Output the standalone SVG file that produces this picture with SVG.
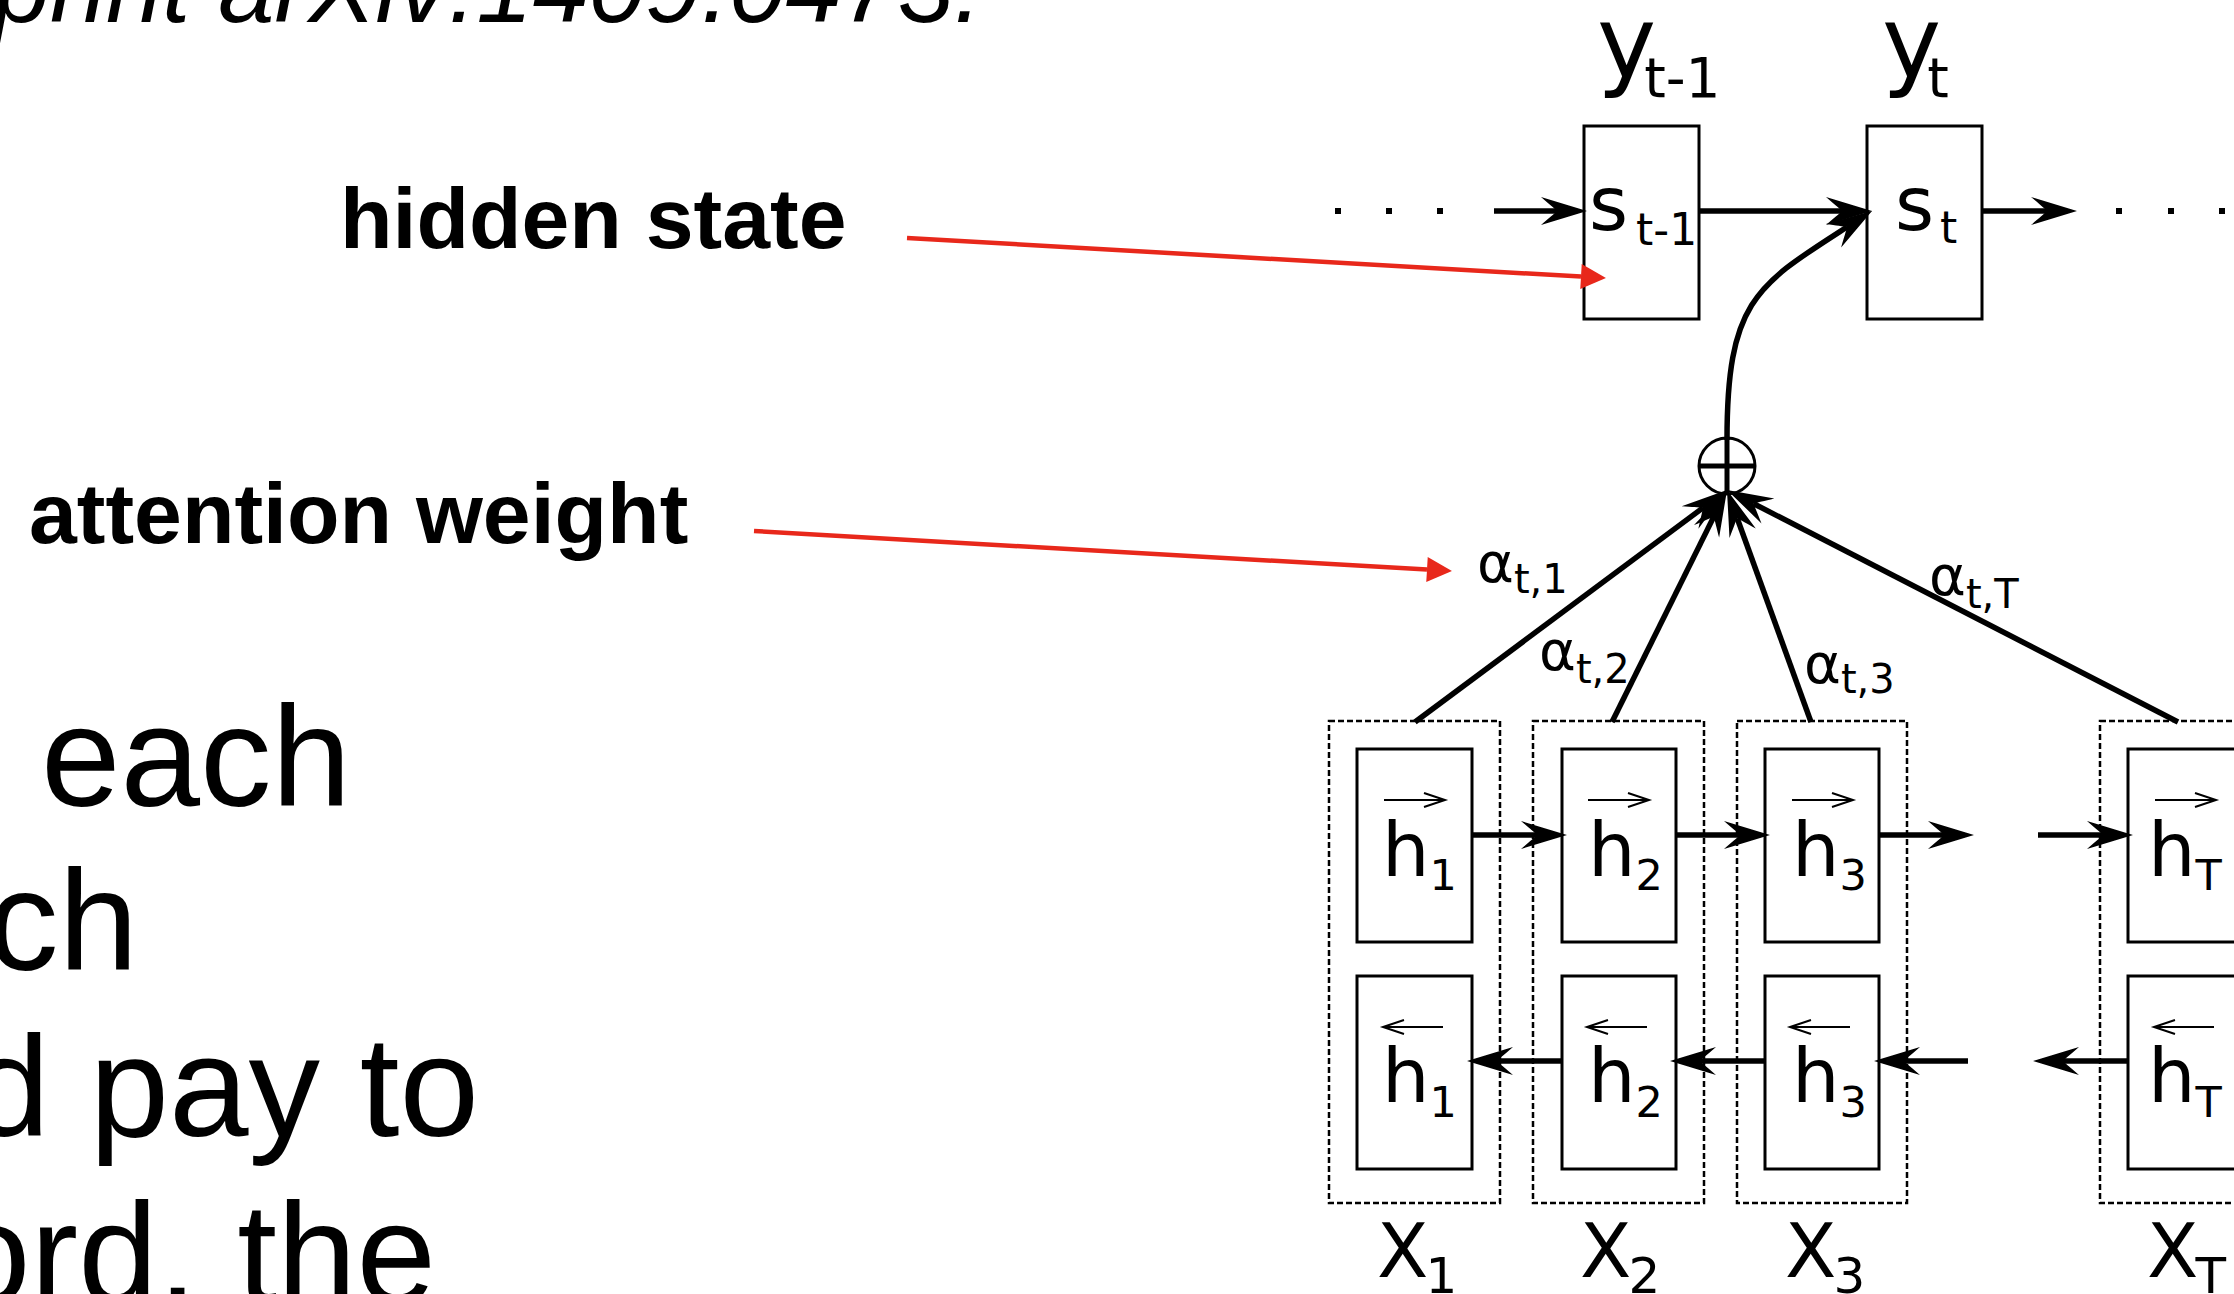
<svg xmlns="http://www.w3.org/2000/svg" width="2234" height="1294" viewBox="0 0 2234 1294">
<defs>
<style>
.dj{font-family:"DejaVu Sans",sans-serif;fill:#000}
.box{fill:#fff;stroke:#000;stroke-width:3}
.dash{fill:none;stroke:#000;stroke-width:2.5;stroke-dasharray:6 3}
.ln{fill:none;stroke:#000;stroke-width:5.5}
.red{fill:none;stroke:#e8281b;stroke-width:4.5}
.thin{fill:none;stroke:#000;stroke-width:2}
.slide{font-family:"Liberation Sans",Arial,sans-serif;fill:#000}
.lbl{font-family:"Liberation Sans",Arial,sans-serif;font-weight:bold;font-size:86px;fill:#000}
</style>
<marker id="ah" markerUnits="userSpaceOnUse" orient="auto" overflow="visible" markerWidth="10" markerHeight="10" refX="0" refY="0">
<path d="M30 0 L-16 -14 C-8 -7 -3 -3 0 0 C-3 3 -8 7 -16 14 Z" fill="#000"/>
</marker>
<marker id="rh" markerUnits="userSpaceOnUse" orient="auto" overflow="visible" markerWidth="10" markerHeight="10" refX="0" refY="0">
<path d="M25 0 L0 -12.5 L0 12.5 Z" fill="#e8281b"/>
</marker>
</defs>
<rect width="2234" height="1294" fill="#fff"/>

<g id="slide-text">
<text class="slide" font-style="italic" font-size="101" text-anchor="end" x="982" y="22">print arXiv:1409.0473.</text>
<text class="slide" font-size="143" text-anchor="end" x="351" y="806">each</text>
<text class="slide" font-size="143" text-anchor="end" x="138" y="970">ch</text>
<text class="slide" font-size="143" text-anchor="end" x="479" y="1136">d pay to</text>
<text class="slide" font-size="143" text-anchor="end" x="436" y="1303">ord. the</text>
<text class="lbl" x="340" y="248">hidden state</text>
<text class="lbl" x="29" y="543">attention weight</text>
</g>

<g id="y-labels">
<text class="dj" x="1597" y="77" font-size="100">y<tspan dx="-12" dy="20" font-size="55">t-1</tspan></text>
<text class="dj" x="1882" y="77" font-size="100">y<tspan dx="-14" dy="20" font-size="55">t</tspan></text>
</g>

<g id="inputs">
<g id="x1"><rect class="dash" x="1329" y="721" width="171" height="482"/><text class="dj" x="1377" y="1277" font-size="75">X<tspan dx="-3" dy="16" font-size="50">1</tspan></text></g>
<g id="x2"><rect class="dash" x="1533" y="721" width="171" height="482"/><text class="dj" x="1580" y="1277" font-size="75">X<tspan dx="-3" dy="16" font-size="50">2</tspan></text></g>
<g id="x3"><rect class="dash" x="1737" y="721" width="170" height="482"/><text class="dj" x="1785" y="1277" font-size="75">X<tspan dx="-3" dy="16" font-size="50">3</tspan></text></g>
<g id="xT"><rect class="dash" x="2100" y="721" width="171" height="482"/><text class="dj" x="2147" y="1277" font-size="75">X<tspan dx="-3" dy="16" font-size="50">T</tspan></text></g>
</g>

<g id="s_prev"><rect class="box" x="1584" y="126" width="115" height="193"/><text class="dj" x="1589" y="230" font-size="75">s<tspan dx="8" dy="15" font-size="44">t-1</tspan></text></g>
<g id="s_t"><rect class="box" x="1867" y="126" width="115" height="193"/><text class="dj" x="1895" y="230" font-size="75">s<tspan dx="6" dy="13" font-size="44">t</tspan></text></g>

<g id="hf1"><rect class="box" x="1357" y="749" width="115" height="193"/><path class="thin" d="M1384 800H1445M1424 793L1445 800L1424 807"/><text class="dj" x="1382" y="876" font-size="75">h<tspan dy="14" font-size="43">1</tspan></text></g>
<g id="hf2"><rect class="box" x="1562" y="749" width="114" height="193"/><path class="thin" d="M1588 800H1649M1628 793L1649 800L1628 807"/><text class="dj" x="1588" y="876" font-size="75">h<tspan dy="14" font-size="43">2</tspan></text></g>
<g id="hf3"><rect class="box" x="1765" y="749" width="114" height="193"/><path class="thin" d="M1792 800H1853M1832 793L1853 800L1832 807"/><text class="dj" x="1792" y="876" font-size="75">h<tspan dy="14" font-size="43">3</tspan></text></g>
<g id="hfT"><rect class="box" x="2128" y="749" width="115" height="193"/><path class="thin" d="M2155 800H2216M2195 793L2216 800L2195 807"/><text class="dj" x="2148" y="876" font-size="75">h<tspan dy="14" font-size="43">T</tspan></text></g>

<g id="hb1"><rect class="box" x="1357" y="976" width="115" height="193"/><path class="thin" d="M1443 1027H1383M1404 1020L1383 1027L1404 1034"/><text class="dj" x="1382" y="1102" font-size="75">h<tspan dy="15" font-size="43">1</tspan></text></g>
<g id="hb2"><rect class="box" x="1562" y="976" width="114" height="193"/><path class="thin" d="M1647 1027H1587M1608 1020L1587 1027L1608 1034"/><text class="dj" x="1588" y="1102" font-size="75">h<tspan dy="15" font-size="43">2</tspan></text></g>
<g id="hb3"><rect class="box" x="1765" y="976" width="114" height="193"/><path class="thin" d="M1850 1027H1790M1811 1020L1790 1027L1811 1034"/><text class="dj" x="1792" y="1102" font-size="75">h<tspan dy="15" font-size="43">3</tspan></text></g>
<g id="hbT"><rect class="box" x="2128" y="976" width="115" height="193"/><path class="thin" d="M2214 1027H2154M2175 1020L2154 1027L2175 1034"/><text class="dj" x="2148" y="1102" font-size="75">h<tspan dy="15" font-size="43">T</tspan></text></g>

<g id="sum"><circle cx="1727" cy="466" r="28" fill="#fff" stroke="#000" stroke-width="3"/><path d="M1699 466H1755M1727 438V494" stroke="#000" stroke-width="5" fill="none"/></g>

<g id="ellipsis" fill="#000">
<rect x="1335" y="208" width="6" height="6"/><rect x="1386" y="208" width="6" height="6"/><rect x="1437" y="208" width="6" height="6"/>
<rect x="2116" y="208" width="6" height="6"/><rect x="2168" y="208" width="6" height="6"/><rect x="2219" y="208" width="6" height="6"/>
</g>

<g id="connectors">
<path class="ln" d="M1494 211H1557" marker-end="url(#ah)"/>
<path class="ln" d="M1699 211H1842" marker-end="url(#ah)"/>
<path class="ln" d="M1982 211H2047" marker-end="url(#ah)"/>
<path class="ln" d="M1727 440C1727 300 1757 285 1847 227" marker-end="url(#ah)"/>
<path class="ln" d="M1415 722L1702.9 507.9" marker-end="url(#ah)"/>
<path class="ln" d="M1612 722L1713.7 516.9" marker-end="url(#ah)"/>
<path class="ln" d="M1811 722L1737.2 518.2" marker-end="url(#ah)"/>
<path class="ln" d="M2178 722L1753.7 503.7" marker-end="url(#ah)"/>
<path class="ln" d="M1472 835H1537" marker-end="url(#ah)"/>
<path class="ln" d="M1676 835H1740" marker-end="url(#ah)"/>
<path class="ln" d="M1879 835H1944" marker-end="url(#ah)"/>
<path class="ln" d="M2038 835H2103" marker-end="url(#ah)"/>
<path class="ln" d="M1562 1061H1497" marker-end="url(#ah)"/>
<path class="ln" d="M1765 1061H1700" marker-end="url(#ah)"/>
<path class="ln" d="M1968 1061H1904" marker-end="url(#ah)"/>
<path class="ln" d="M2128 1061H2063" marker-end="url(#ah)"/>
</g>

<g id="alpha-labels">
<text class="dj" x="1477" y="582" font-size="56">α<tspan dy="11" font-size="40">t,1</tspan></text>
<text class="dj" x="1539" y="670" font-size="56">α<tspan dy="13" font-size="40">t,2</tspan></text>
<text class="dj" x="1804" y="683" font-size="56">α<tspan dy="10" font-size="40">t,3</tspan></text>
<text class="dj" x="1929" y="595" font-size="56">α<tspan dy="13" font-size="40">t,T</tspan></text>
</g>

<g id="annotations">
<path class="red" d="M907 238L1581 276.6" marker-end="url(#rh)"/>
<path class="red" d="M754 531L1427 569.6" marker-end="url(#rh)"/>
</g>
</svg>
